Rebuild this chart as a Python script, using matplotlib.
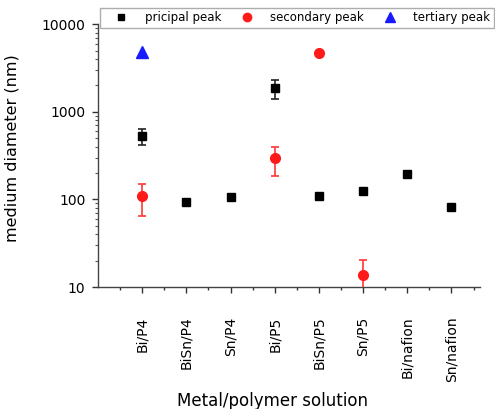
#!/usr/bin/env python3
import numpy as np
import matplotlib

matplotlib.use("Agg")
import matplotlib.pyplot as plt
from matplotlib.lines import Line2D
from matplotlib.ticker import LogLocator, FixedLocator, NullFormatter

# ------------------------------------------------------------------
# Data
# ------------------------------------------------------------------
samples = ["Bi/P4", "BiSn/P4", "Sn/P4", "Bi/P5", "BiSn/P5", "Sn/P5",
           "Bi/nafion", "Sn/nafion"]
xpos = np.arange(1, len(samples) + 1)

principal = [533, 93, 107, 1880, 110, 125, 193, 81]
principal_lo = [115, 0, 0, 480, 0, 0, 0, 0]
principal_hi = [100, 0, 0, 420, 0, 0, 0, 0]

secondary_x = [1, 4, 5, 6]
secondary = [110, 294, 4640, 13.7]
secondary_lo = [45, 108, 0, 7]
secondary_hi = [40, 99, 0, 6.5]

tertiary_x = [1]
tertiary = [4830]

black, red, blue = "black", "#ff1a1a", "#1a1aff"

# ------------------------------------------------------------------
# Plot
# ------------------------------------------------------------------
plt.rcParams["font.family"] = ["DejaVu Sans"]
fig = plt.figure(figsize=(4.95, 4.09), dpi=100)
ax = fig.add_axes([0.198, 0.298, 0.772, 0.643])

ax.errorbar(xpos, principal, yerr=[principal_lo, principal_hi], fmt="s",
            color=black, ms=6, ecolor="#222222", elinewidth=1.2,
            capsize=3, capthick=1.2, zorder=3)
ax.errorbar(secondary_x, secondary, yerr=[secondary_lo, secondary_hi],
            fmt="o", color=red, ms=7, ecolor="#ff4444", elinewidth=1.3,
            capsize=3, capthick=1.3, zorder=3)
ax.plot(tertiary_x, tertiary, "^", color=blue, ms=8, zorder=3)

ax.set_yscale("log")
ax.set_ylim(10, 10000)
ax.set_xlim(0, 8.65)

ax.set_xticks(xpos)
ax.set_xticklabels(samples, rotation=90, fontsize=10, va="top", ha="center")
ax.xaxis.set_minor_locator(FixedLocator(np.arange(0.5, 9.0, 1.0)))
ax.yaxis.set_minor_locator(LogLocator(base=10, subs=np.arange(2, 10), numticks=10))
ax.yaxis.set_minor_formatter(NullFormatter())
ax.set_yticks([10, 100, 1000, 10000])
ax.set_yticklabels(["10", "100", "1000", "10000"], fontsize=10)

ax.tick_params(axis="x", which="major", length=4, width=1, pad=17, colors="#333333",
               labelcolor="black")
ax.tick_params(axis="x", which="minor", length=2.5, width=1, colors="#333333")
ax.tick_params(axis="y", which="major", length=4, width=1, pad=5, colors="#333333",
               labelcolor="black")
ax.tick_params(axis="y", which="minor", length=2.5, width=0.8, colors="#555555")

for side in ["top", "right"]:
    ax.spines[side].set_visible(False)
for side in ["left", "bottom"]:
    ax.spines[side].set_color("#444444")
    ax.spines[side].set_linewidth(1.0)

ax.set_ylabel("medium diameter (nm)", fontsize=11.5)
ax.yaxis.set_label_coords(-0.205, 0.528)
ax.set_xlabel("Metal/polymer solution", fontsize=12)
ax.xaxis.set_label_coords(0.456, -0.40)

handles = [
    Line2D([], [], ls="none", marker="s", color=black, ms=5),
    Line2D([], [], ls="none", marker="o", color=red, ms=6),
    Line2D([], [], ls="none", marker="^", color=blue, ms=7),
]
labels = ["pricipal peak", "secondary peak", "tertiary peak"]
leg = ax.legend(handles, labels, ncol=3, loc="lower left",
                bbox_to_anchor=(0.005, 0.986, 1.031, 0.078),
                mode="expand", fontsize=8.5, frameon=True, fancybox=False,
                handlelength=3.0, handletextpad=0.5, borderpad=0.3,
                columnspacing=0.5, borderaxespad=0.0)
leg.get_frame().set_edgecolor("#999999")
leg.get_frame().set_linewidth(1.0)
leg.set_zorder(5)

fig.savefig("out.png", dpi=100)
